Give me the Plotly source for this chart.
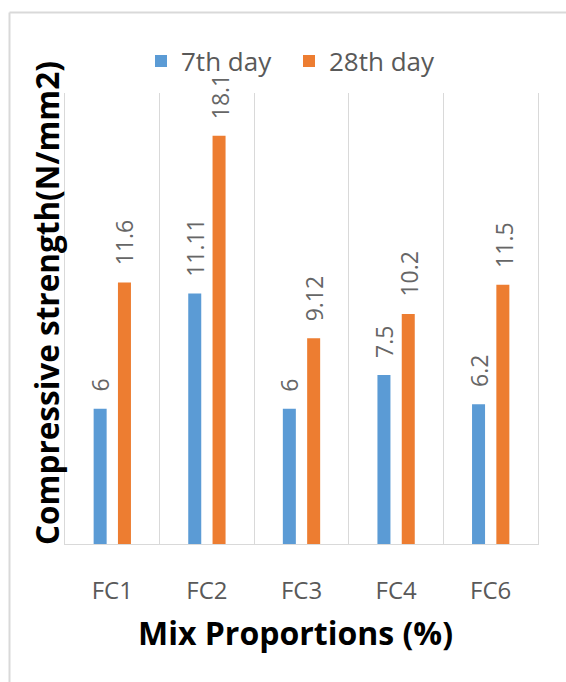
import plotly.graph_objects as go

# Data
categories = ["FC1", "FC2", "FC3", "FC4", "FC6"]
day7 = [6, 11.11, 6, 7.5, 6.2]
day28 = [11.6, 18.1, 9.12, 10.2, 11.5]
series_names = ["7th day", "28th day"]
series_colors = ["#5B9BD5", "#ED7D31"]
y_title = "Compressive strength(N/mm2)"
x_title = "Mix Proportions (%)"

# Canvas and plot-area geometry (pixels)
W, H = 566, 682
L, R, T, B = 65, 28, 93, 138
PW, PH = W - L - R, H - T - B

FONT = "Open Sans"
GREY = "#595959"
LABEL_GREY = "#666666"
LINE = "#d9d9d9"


def px_x(x):
    return (x - L) / PW


def px_y(y):
    return (H - B - y) / PH


fig = go.Figure()
for name, vals, color in zip(series_names, [day7, day28], series_colors):
    fig.add_trace(go.Bar(
        x=categories, y=vals, name=name,
        marker=dict(color=color, line=dict(width=0)),
    ))

annotations = []
# value labels, rotated, sitting just above each bar
for vals, shift in zip([day7, day28], [-12, 12.5]):
    for c, v in zip(categories, vals):
        annotations.append(dict(
            x=c, y=v, xref="x", yref="y", text=f"{v:g}", showarrow=False,
            textangle=-90, xanchor="center", yanchor="bottom",
            xshift=shift, yshift=15,
            font=dict(family=FONT, size=23, color=LABEL_GREY),
        ))

# axis titles
annotations.append(dict(
    x=px_x(295.5), y=px_y(632), xref="paper", yref="paper", text=x_title,
    showarrow=False, xanchor="center", yanchor="middle",
    font=dict(family=FONT, size=32, color="#000000", weight="bold"),
))
annotations.append(dict(
    x=px_x(46), y=px_y(303), xref="paper", yref="paper", text=y_title,
    showarrow=False, textangle=-90, xanchor="center", yanchor="middle",
    font=dict(family=FONT, size=31.5, color="#000000", weight="bold"),
))

# chart frame (top and left edges)
shapes = [
    dict(type="line", xref="paper", yref="paper",
         x0=px_x(9.5), x1=px_x(W + 20), y0=px_y(12.5), y1=px_y(12.5),
         line=dict(color=LINE, width=2)),
    dict(type="line", xref="paper", yref="paper",
         x0=px_x(9.5), x1=px_x(9.5), y0=px_y(12.5), y1=px_y(H + 20),
         line=dict(color=LINE, width=2)),
]

fig.update_layout(
    width=W, height=H,
    margin=dict(l=L, r=R, t=T, b=B, pad=0),
    paper_bgcolor="white", plot_bgcolor="white",
    barmode="group", bargap=0.486, bargroupgap=0.465,
    showlegend=True,
    legend=dict(
        orientation="h", x=px_x(289), xanchor="center",
        y=px_y(61), yanchor="middle",
        entrywidth=103, entrywidthmode="pixels",
        font=dict(family=FONT, size=26, color=GREY),
        bgcolor="rgba(0,0,0,0)",
    ),
    annotations=annotations,
    shapes=shapes,
    xaxis=dict(
        type="category", tickson="boundaries",
        showgrid=True, gridcolor=LINE, gridwidth=1,
        showline=True, linecolor=LINE, linewidth=1,
        ticks="", ticklabelstandoff=25,
        tickfont=dict(family=FONT, size=24, color=GREY),
        range=[-0.5, 4.5], zeroline=False,
    ),
    yaxis=dict(
        range=[0, 20], showticklabels=False, showgrid=False,
        showline=True, mirror=True, linecolor=LINE, linewidth=1,
        zeroline=False, ticks="",
    ),
)

fig.write_html("out.html")
